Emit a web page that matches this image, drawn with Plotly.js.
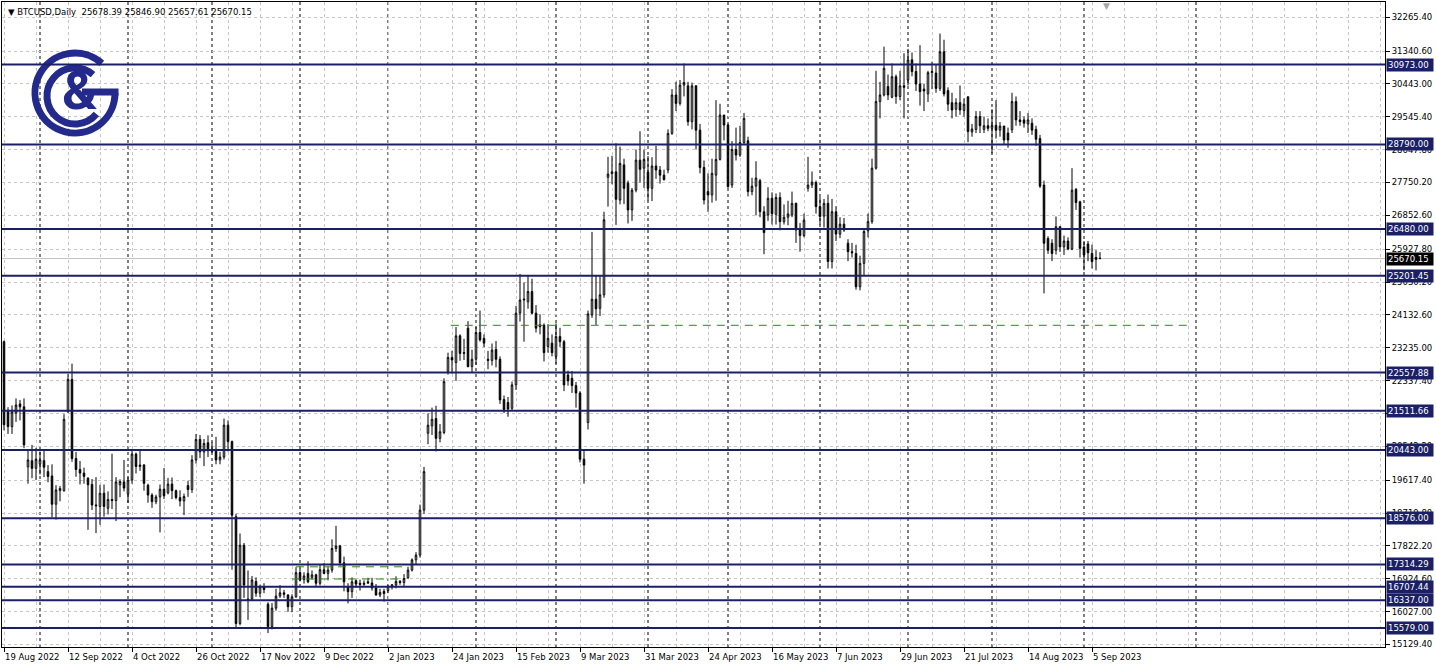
<!DOCTYPE html>
<html><head><meta charset="utf-8">
<script src="https://cdn.plot.ly/plotly-3.0.1.min.js"></script>
<style>html,body{margin:0;padding:0;background:#fff;}#chart{width:1436px;height:669px;}</style>
</head><body><div id="chart"></div>
<script>
const openP = [23400,21490,21080,21450,21700,21620,19980,20150,19940,20060,
20150,19850,19730,18960,19330,19330,21490,22370,20210,19910,
19810,19670,19500,18940,18900,19260,18850,19090,19060,19490,
19570,19240,19620,20330,19990,20030,19480,19210,19030,19160,
19370,19270,19510,19330,19140,19050,19470,19360,20170,20730,
20390,20640,20400,20460,20170,20250,21120,20670,18620,15700,
17840,16330,16370,16850,16530,16700,16230,15620,16120,16450,
16540,16480,16160,16430,17090,16900,17070,16960,17030,16800,
17170,17070,17160,17750,17820,17360,16700,16570,16870,16800,
16770,16840,16810,16670,16480,16580,16600,16700,16750,16850,
16820,16950,17160,17440,17570,18800,20900,21100,21300,20760,
20920,22590,22970,22830,23560,23080,23770,22720,22920,23650,
23490,22920,22890,23190,22920,21820,21740,21580,22220,24180,
24540,24490,24770,24180,23860,23850,23270,23360,23000,23540,
23400,22490,22400,22200,22000,20190,21190,24130,24560,24310,
24680,27890,27990,28040,27270,28230,27730,27000,27540,28360,
28140,28030,27590,28200,28090,27950,28090,29090,30140,29910,
30410,30390,29410,30390,29180,28160,27500,27410,27950,28380,
29590,29320,27680,28650,28500,28840,28890,27500,27650,27800,
26950,26860,27320,26880,27340,26680,26800,26860,27180,26450,
26300,27590,27680,27750,27090,26830,27180,25590,26950,26340,
26610,26090,25860,25810,24900,25540,26430,26680,28140,29960,
30140,30370,30080,30640,30100,30390,30550,31100,30780,30440,
30300,30170,30750,30740,30320,31320,30260,29930,29750,29930,
29720,30090,29130,29200,29550,29200,29300,29230,29310,29180,
29290,29100,29190,29960,29460,29460,29350,29370,29200,28950,
27680,26220,26090,25900,26540,25990,26150,25930,27560,27220,
25990,26070,25810,25700,25678.39];
const highP = [23430,21610,21660,21850,21810,21850,20420,20580,20500,20400,
20450,20030,20050,19480,19460,21420,22520,22800,20390,20140,
19960,19700,19650,19700,19490,19500,19310,20340,19700,19640,
20170,19700,20460,20370,20440,20060,19520,19260,19220,19500,
19950,19680,19690,19360,19340,19250,19600,20300,20880,20850,
20740,20840,20650,20800,20390,21300,21250,20700,18700,18160,
17900,17150,17000,16960,16760,16800,16280,16260,16650,16750,
16620,16500,16500,17240,17200,17100,17400,17150,17060,17300,
17350,17250,18000,18370,17850,17530,16800,16960,16900,16900,
16880,16950,16950,16780,16650,16650,16760,16780,16990,16890,
17050,17250,17480,17650,18950,19980,21440,21600,21650,21150,
22400,23100,23150,23800,23600,23480,23960,23180,23800,24250,
23600,23150,23350,23420,23000,21930,21890,22310,24380,25250,
25020,25220,25120,24400,24150,23900,23880,23600,23900,23780,
23450,22610,22600,22300,22050,20450,24250,26400,25200,25200,
26950,28450,28480,28820,28730,28400,27800,27600,28650,29150,
28650,28470,28440,28750,28200,28100,29200,30300,30500,30550,
31000,30500,30480,30400,29350,28350,28000,28400,30000,29900,
29600,29350,28880,29250,29300,29650,29000,27880,28330,27850,
27100,27620,27480,27450,27480,27150,27250,27500,27200,26640,
26900,28450,28050,27800,27350,27300,27420,27300,27100,26800,
26780,26200,26100,26050,25750,26480,26900,28400,30800,30500,
31460,30700,31000,30700,30800,31280,31400,31300,31000,31500,
30450,30800,31050,30980,31820,31650,30350,30200,30050,30400,
30050,30100,29350,29700,29700,29550,29500,29750,30000,29400,
29300,29250,30200,30100,29700,29550,29650,29500,29300,29050,
27800,26280,26200,26820,26560,26300,26250,28140,27600,27250,
26150,26150,26050,25900,25846.90];
const lowP = [20980,20880,20880,21210,21250,20490,19520,19670,19620,19770,
19700,19560,18600,18540,19040,19300,21450,20120,19710,19500,
19520,18260,18800,18170,18400,18620,18680,18830,18500,19150,
19310,19000,19520,19800,19870,19330,19000,18860,18960,18190,
19100,19230,19100,19090,18900,18660,19160,19270,20070,20220,
20000,20250,20360,20050,20050,20180,20400,17170,15600,15650,
16400,15800,16330,16430,16420,16530,15440,15540,16050,16400,
16400,16020,16010,16400,16850,16790,16800,16900,16700,16740,
17050,16880,17090,17660,17280,16580,16250,16400,16680,16600,
16730,16780,16600,16460,16420,16300,16530,16630,16660,16760,
16710,16920,17120,17320,17500,18700,20600,20850,20400,20650,
20870,22500,22530,22330,22880,22900,22700,22550,22770,23400,
23250,22650,22750,22700,21700,21450,21350,21530,22080,23950,
23400,24300,24150,23650,23600,22860,23100,23000,22800,23250,
22050,22200,22000,21600,20100,19520,21000,24050,23860,24100,
24600,27090,27700,26590,27150,27160,26630,26700,27480,27750,
27600,27260,27240,27850,27720,27800,28000,29050,29700,29850,
30100,29300,29200,28650,28000,27150,26950,27200,27250,28350,
28900,27600,27600,28350,28450,28800,27370,27400,26850,26800,
25790,26700,26600,26600,26440,26600,26580,26800,26100,25860,
26250,27500,27600,26900,26600,26520,25400,25400,26150,26230,
26400,25600,25700,24820,24800,25200,26250,26620,28100,29500,
30100,30000,30050,29900,30000,29500,30400,30650,30250,29850,
29700,29950,30300,30200,30250,30100,29700,29500,29550,29600,
29550,28850,29000,29100,29100,29100,29150,28550,28950,29000,
28800,28700,29100,29300,29300,29250,29100,29050,28750,27600,
24720,25800,25600,25780,25850,25770,25900,25900,27000,25700,
25350,25600,25400,25350,25657.61];
const closeP = [21130,21080,21480,21670,21620,20580,20170,19940,20190,20170,
19970,19720,18960,19350,19390,21280,22370,20210,19910,19810,
19720,19490,18940,18920,19260,18900,19090,19060,19570,19580,
19400,19620,20330,19990,20030,19530,19210,19030,19160,19370,
19190,19510,19330,19140,19050,19170,19360,20170,20730,20390,
20620,20420,20460,20170,20250,21120,20670,18660,15700,17840,
16750,16370,16890,16530,16700,16630,15620,16120,16450,16540,
16500,16160,16430,17090,16890,17000,16840,17030,16800,17170,
17070,17160,17750,17820,17360,16840,16570,16840,16780,16770,
16800,16810,16670,16480,16550,16520,16720,16760,16850,16820,
16930,17160,17440,17570,18800,19850,21120,21280,20760,20940,
22310,22970,22900,23560,23080,23100,22720,22920,23650,23450,
23360,22890,23170,22920,21810,21550,21560,22220,24180,24540,
24560,24770,24180,23770,23810,23100,23490,23100,23540,23400,
22220,22330,22200,22000,20190,20030,24160,24560,24300,24680,
26730,27980,28040,27290,28270,27590,27000,27540,28360,28110,
28380,27590,28200,28090,27950,27830,29090,30140,29910,30410,
30480,29410,30390,29180,28160,27270,27410,28000,28380,29590,
29320,27640,28650,28500,28840,29500,27500,27650,27870,26950,
26380,27320,26900,27340,26680,26800,26890,27180,26450,26300,
26720,27680,27760,27090,26820,27180,25590,26950,26340,26610,
26450,25860,25830,24900,25540,26410,26680,28140,29960,30140,
30870,30140,30640,30100,30390,30350,31100,30780,30440,30230,
30250,30750,30780,30320,31320,30170,29890,29730,29930,29730,
29890,29140,29210,29550,29300,29300,29230,29310,29180,29290,
28910,28910,29960,29460,29410,29370,29460,29180,28930,27650,
26090,25900,25810,26540,25990,26150,25930,27540,27200,25950,
25770,25830,25590,25650,25670.15];

const dateLabels = ["19 Aug 2022","12 Sep 2022","4 Oct 2022","26 Oct 2022","17 Nov 2022","9 Dec 2022",
"2 Jan 2023","24 Jan 2023","15 Feb 2023","9 Mar 2023","31 Mar 2023","24 Apr 2023","16 May 2023",
"7 Jun 2023","29 Jun 2023","21 Jul 2023","14 Aug 2023","5 Sep 2023"];
const barsPerLabel = 16;
const barsPerGrid = 8;
const monthStartBars = [9,31,52,74,96,118,138,161,181,204,226,247,270,298];
const priceTicks = [32265.40,31340.60,30443.00,29545.40,28647.80,27750.20,26852.60,25927.80,25030.20,
24132.60,23235.00,22337.40,21439.80,20542.20,19617.40,18719.80,17822.20,16924.60,16027.00,15129.40];
const levels = [30973.00,28790.00,26480.00,25201.45,22557.88,21511.66,20443.00,18576.00,17314.29,16707.44,16337.00,15579.00];
const greenPrices = [23848, 17250, 16917];
const greenStartBar = [111.7, 73, 72];
const greenEndBar = [296, 99.8, 100];
const symbolName = "BTCUSD,Daily";

const N = closeP.length;
const last = N - 1;
const lastPrice = closeP[last];
const navy = '#1b1f66';
const gridC = '#c6c6c6';

const labelIdx = dateLabels.map((d, k) => k * barsPerLabel);
const minorIdx = [];
for (let v = 0; v <= 345; v += barsPerGrid) { if (labelIdx.indexOf(v) < 0) minorIdx.push(v); }

const trace = {
  type: 'candlestick',
  open: openP, high: highP, low: lowP, close: closeP,
  increasing: {line: {color: '#000', width: 1}, fillcolor: '#ffffff'},
  decreasing: {line: {color: '#000', width: 1}, fillcolor: '#000000'},
  whiskerwidth: 0,
  hoverinfo: 'skip'
};

const shapes = [];
monthStartBars.forEach(x => shapes.push({type: 'line', xref: 'x', yref: 'paper', x0: x, x1: x, y0: 0, y1: 1,
  line: {color: '#000', width: 1, dash: '3px,3px'}, layer: 'between'}));
shapes.push({type: 'line', xref: 'paper', x0: 0, x1: 1, yref: 'y', y0: lastPrice, y1: lastPrice,
  line: {color: '#c0c0c0', width: 1}, layer: 'between'});
greenPrices.forEach((v, k) => shapes.push({type: 'line', xref: 'x', x0: greenStartBar[k], x1: greenEndBar[k], yref: 'y', y0: v, y1: v,
  line: {color: '#2f8a12', width: 1, dash: '8px,6px'}, layer: 'above'}));
levels.forEach(v => shapes.push({type: 'line', xref: 'paper', x0: 0, x1: 1, yref: 'y', y0: v, y1: v,
  line: {color: navy, width: 2}, layer: 'above'}));

const annotations = [];
dateLabels.forEach((t, k) => annotations.push({text: t, xref: 'x', x: labelIdx[k], yref: 'paper', y: 0,
  xanchor: 'left', yanchor: 'top', yshift: -3, xshift: -1, showarrow: false,
  font: {family: 'DejaVu Sans', size: 8.5, color: '#000'}}));
levels.forEach(v => annotations.push({text: v.toFixed(2), xref: 'paper', x: 1, xanchor: 'left', xshift: 1,
  yref: 'y', y: v, yanchor: 'middle', showarrow: false, bgcolor: navy, borderpad: 1, width: 44, height: 10, align: 'left',
  font: {family: 'DejaVu Sans', size: 8.5, color: '#ffffff'}}));
annotations.push({text: lastPrice.toFixed(2), xref: 'paper', x: 1, xanchor: 'left', xshift: 1,
  yref: 'y', y: lastPrice, yanchor: 'middle', showarrow: false, bgcolor: '#000', borderpad: 1, width: 44, height: 10, align: 'left',
  font: {family: 'DejaVu Sans', size: 8.5, color: '#ffffff'}});
const hdr = '\u25BC\u00a0' + symbolName + '\u00a0\u00a0' + [openP[last], highP[last], lowP[last], closeP[last]].map(v => v.toFixed(2)).join('\u00a0');
annotations.push({text: hdr, xref: 'paper', x: 0, xanchor: 'left', xshift: 4, yref: 'paper', y: 1, yanchor: 'top', yshift: -3,
  showarrow: false, font: {family: 'DejaVu Sans', size: 8.5, color: '#000'}});
annotations.push({text: '\u25BC', xref: 'x', x: last + 1.5, xanchor: 'center', yref: 'paper', y: 1, yanchor: 'top', yshift: 3,
  showarrow: false, font: {family: 'DejaVu Sans', size: 9, color: '#a8a8a8'}});
// logo ampersand
annotations.push({text: '<b>&amp;</b>', xref: 'paper', yref: 'paper', x: (79.5 - 2) / 1383, y: 1 - (90.5 - 2) / 645,
  xanchor: 'center', yanchor: 'middle', showarrow: false, font: {family: 'Roboto', size: 54, color: '#232a8c'}});

const logoSvg = '<svg xmlns="http://www.w3.org/2000/svg" width="100" height="100" viewBox="0 0 100 100">' +
  '<g fill="none" stroke="#232a8c" stroke-width="7">' +
  '<path d="M 76.8 20.3 A 40 40 0 1 0 90 50"/>' +
  '<path d="M 93.5 49 L 57 49"/>' +
  '<path d="M 68 31.6 A 28 28 0 1 0 71.4 71"/>' +
  '</g></svg>';

const layout = {
  width: 1436, height: 669,
  margin: {l: 2, r: 51, t: 2, b: 22, pad: 0},
  paper_bgcolor: '#ffffff', plot_bgcolor: '#ffffff',
  showlegend: false, boxgap: 0.45,
  font: {family: 'DejaVu Sans', size: 8.5, color: '#000'},
  xaxis: {range: [-0.5, 345.25], tickmode: 'array', tickvals: labelIdx, ticktext: labelIdx.map(() => ''),
    showticklabels: false, ticks: 'outside', ticklen: 4, tickcolor: '#000',
    showgrid: true, gridcolor: gridC, griddash: '3px,3px', gridwidth: 1,
    minor: {tickmode: 'array', tickvals: minorIdx, showgrid: true, gridcolor: gridC, griddash: '3px,3px', ticks: ''},
    showline: true, linecolor: '#000', linewidth: 1, mirror: true, zeroline: false,
    rangeslider: {visible: false}, fixedrange: true, automargin: false},
  yaxis: {side: 'right', range: [15059, 32680.5], tickmode: 'array', tickvals: priceTicks,
    ticktext: priceTicks.map(v => v.toFixed(2)), ticks: 'outside', ticklen: 4, tickcolor: '#000',
    tickfont: {family: 'DejaVu Sans', size: 8.5, color: '#000'},
    showgrid: true, gridcolor: gridC, griddash: '3px,3px', gridwidth: 1,
    showline: true, linecolor: '#000', linewidth: 1, mirror: true, zeroline: false, fixedrange: true, automargin: false},
  shapes: shapes,
  annotations: annotations,
  images: [{source: 'data:image/svg+xml;charset=utf-8,' + encodeURIComponent(logoSvg),
    xref: 'paper', yref: 'paper', x: (25 - 2) / 1383, y: 1 - (43 - 2) / 645,
    sizex: 100 / 1383, sizey: 100 / 645, xanchor: 'left', yanchor: 'top', sizing: 'stretch', layer: 'above'}]
};

Plotly.newPlot('chart', [trace], layout, {staticPlot: true, displayModeBar: false});
</script>
</body></html>
